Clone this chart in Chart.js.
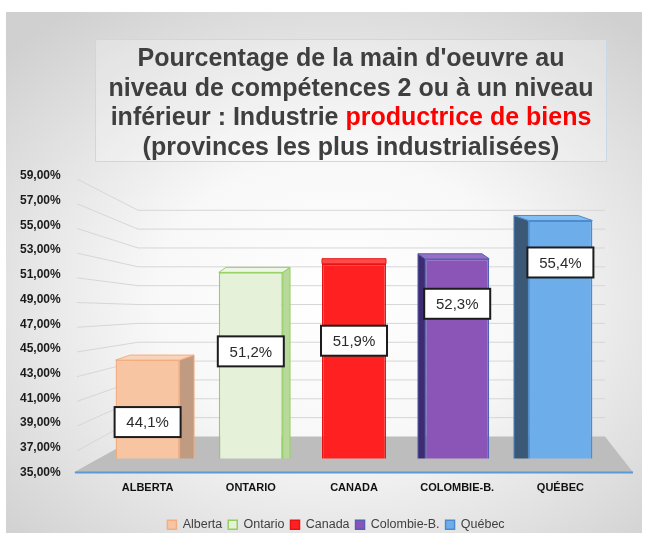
<!DOCTYPE html>
<html lang="fr">
<head>
<meta charset="utf-8">
<script src="https://cdn.jsdelivr.net/npm/chart.js@4.4.1/dist/chart.umd.min.js"></script>
<style>
    html, body { margin: 0; padding: 0; background: #fff; }
    #frame {
        position: absolute; left: 6px; top: 12px; width: 636px; height: 521px;
        background: radial-gradient(ellipse 72% 68% at 52% 55%, #ffffff 0%, #f8f8f8 40%, #d0d0d0 100%);
    }
    #chart { position: absolute; left: 0; top: 0; }
    #title {
        position: absolute; left: 95px; top: 39px; width: 512px; height: 123px;
        box-sizing: border-box; border: 1px solid #c9d7e6;
        background: rgba(255,255,255,0.25);
        font: bold 25px 'Liberation Sans', Arial, sans-serif; color: #3f3f3f;
        text-align: center; line-height: 29.5px; padding-top: 3px; white-space: nowrap;
    }
    #title .red { color: #ff0000; }
</style>
</head>
<body>
<div id="frame"></div>
<canvas id="chart" width="648" height="533"></canvas>
<div id="title">Pourcentage de la main d'oeuvre au<br>niveau de compétences 2 ou à un niveau<br>inférieur : Industrie <span class="red">productrice de biens</span><br>(provinces les plus industrialisées)</div>
<script>
// données
const categories = ['ALBERTA', 'ONTARIO', 'CANADA', 'COLOMBIE-B.', 'QUÉBEC'];
const legendNames = ['Alberta', 'Ontario', 'Canada', 'Colombie-B.', 'Québec'];
const values = [44.1, 51.2, 51.9, 52.3, 55.4];
const yMin = 35, yMax = 59, yStep = 2;

// styles
const fillColors = ['#f7c5a2', '#e5f1d8', '#ff2121', '#8b55b7', '#6daeea'];
const borderColors = ['#f2ae80', '#92d060', '#e81414', '#5361b5', '#4d8bd0'];
const sideColors = ['#c19a82', '#b9d99c', '#d01010', '#3f2b70', '#3b5877'];
const topColors = ['#f9d4ba', '#eef7e6', '#ff4a4a', '#9d6cc6', '#86bdf0'];
const labelOffsets = [62, 79, 77, 45, 42];

const fmtPct = (v, d) => v.toFixed(d).replace('.', ',') + '%';

const perspective = {
    id: 'perspective',
    afterUpdate(chart) {
        // la légende est un peu décalée vers la droite dans l'original
        const lg = chart.legend;
        if (!lg) return;
        lg.left += 20;
        lg.right += 20;
        lg.adjustHitBoxes();
    },
    beforeDraw(chart) {
        const boxes = chart.legend && chart.legend.legendHitBoxes;
        if (!boxes || !boxes.length) return;
        const { ctx } = chart;
        const l = boxes[0].left - 20;
        const r = boxes[boxes.length - 1].left + boxes[boxes.length - 1].width + 10;
        const t = boxes[0].top - 7;
        ctx.save();
        ctx.fillStyle = 'rgba(255,255,255,0.45)';
        ctx.fillRect(l, t, r - l, boxes[0].height + 14);
        ctx.restore();
    },
    beforeDatasetsDraw(chart) {
        const { ctx, chartArea: a, scales: { y } } = chart;
        const backBottom = a.bottom - 36;
        const ratio = 0.763;
        ctx.save();
        ctx.strokeStyle = '#d6d6d6';
        ctx.lineWidth = 1;
        y.ticks.forEach(t => {
            if (t.value === yMin) return;
            const yf = y.getPixelForValue(t.value);
            const yb = backBottom - (a.bottom - yf) * ratio;
            ctx.beginPath();
            ctx.moveTo(a.left - 19, yf + 3);
            ctx.lineTo(a.left + 42, yb);
            ctx.lineTo(a.right - 7, yb);
            ctx.stroke();
        });
        // sol
        ctx.fillStyle = '#bdbdbd';
        ctx.beginPath();
        ctx.moveTo(a.left + 42, backBottom);
        ctx.lineTo(a.right - 7, backBottom);
        ctx.lineTo(a.right + 21, a.bottom);
        ctx.lineTo(a.left - 22, a.bottom);
        ctx.closePath();
        ctx.fill();
        ctx.restore();
    },
    afterDatasetsDraw(chart) {
        const { ctx, chartArea: a } = chart;
        const cx = (a.left + a.right) / 2;
        const dy = 5;
        ctx.save();
        const bars = [];
        chart.data.datasets.forEach((ds, i) => {
            const bar = chart.getDatasetMeta(i).data[i];
            const { x, y: top, width } = bar.getProps(['x', 'y', 'width'], true);
            const base = a.bottom;
            const l = x - width / 2, r = x + width / 2;
            const dx = (cx - x) * 0.07;
            bars.push({ l, r, top });
            ctx.lineWidth = 1;
            ctx.strokeStyle = borderColors[i];
            if (Math.abs(dx) > 1) {
                const ex = dx > 0 ? r : l;
                ctx.fillStyle = sideColors[i];
                ctx.beginPath();
                ctx.moveTo(ex, top);
                ctx.lineTo(ex + dx, top - dy);
                ctx.lineTo(ex + dx, base - dy);
                ctx.lineTo(ex, base);
                ctx.closePath();
                ctx.fill();
                ctx.stroke();
            }
            ctx.fillStyle = topColors[i];
            ctx.beginPath();
            ctx.moveTo(l, top);
            ctx.lineTo(l + dx, top - dy);
            ctx.lineTo(r + dx, top - dy);
            ctx.lineTo(r, top);
            ctx.closePath();
            ctx.fill();
            ctx.stroke();
        });
        // avant du sol
        ctx.fillStyle = '#bdbdbd';
        ctx.beginPath();
        ctx.moveTo(a.left + 3, a.bottom - 14);
        ctx.lineTo(a.right + 10, a.bottom - 14);
        ctx.lineTo(a.right + 21, a.bottom);
        ctx.lineTo(a.left - 22, a.bottom);
        ctx.closePath();
        ctx.fill();
        ctx.strokeStyle = '#5b9bd5';
        ctx.lineWidth = 2;
        ctx.beginPath();
        ctx.moveTo(a.left - 21, a.bottom);
        ctx.lineTo(a.right + 21, a.bottom);
        ctx.stroke();
        // étiquettes
        ctx.font = '15px "Liberation Sans", Arial, sans-serif';
        ctx.textAlign = 'center';
        ctx.textBaseline = 'middle';
        bars.forEach((b, i) => {
            const cy = b.top + labelOffsets[i];
            const w = 66, h = 30, bl = b.l - 1;
            ctx.fillStyle = '#ffffff';
            ctx.fillRect(bl, cy - h / 2, w, h);
            ctx.strokeStyle = '#1c1c1c';
            ctx.lineWidth = 2;
            ctx.strokeRect(bl, cy - h / 2, w, h);
            ctx.fillStyle = '#2a2a2a';
            ctx.fillText(fmtPct(values[i], 1), bl + w / 2, cy + 1);
        });
        ctx.restore();
    },
};

new Chart(document.getElementById('chart'), {
    type: 'bar',
    data: {
        labels: categories,
        datasets: legendNames.map((name, i) => ({
            label: name,
            data: categories.map((_, j) => (j === i ? values[i] : null)),
            backgroundColor: fillColors[i],
            borderColor: borderColors[i],
            borderWidth: 1.5,
            categoryPercentage: 0.62,
            barPercentage: 1,
            skipNull: true,
        })),
    },
    options: {
        responsive: false,
        animation: false,
        layout: { padding: { top: 176, left: 20, right: 36, bottom: -8 } },
        plugins: {
            tooltip: { enabled: false },
            legend: {
                position: 'bottom',
                labels: {
                    boxWidth: 9,
                    boxHeight: 9,
                    padding: 6,
                    color: '#404040',
                    font: { family: '"Liberation Sans", Arial, sans-serif', size: 12.5 },
                },
            },
        },
        scales: {
            x: {
                grid: { display: false, drawTicks: false },
                border: { display: false },
                afterFit: (s) => { s.height = 40; },
                ticks: {
                    padding: 9,
                    color: '#111',
                    font: { family: '"Liberation Sans", Arial, sans-serif', size: 11, weight: 'bold' },
                },
            },
            y: {
                min: yMin,
                max: yMax,
                grid: { display: false, drawTicks: false },
                border: { display: false },
                afterFit: (s) => { s.width = 76; },
                ticks: {
                    stepSize: yStep,
                    crossAlign: 'far',
                    color: '#1a1a1a',
                    font: { family: '"Liberation Sans", Arial, sans-serif', size: 12, weight: 'bold' },
                    callback: (v) => fmtPct(v, 2),
                },
            },
        },
    },
    plugins: [perspective],
});
</script>
</body>
</html>
